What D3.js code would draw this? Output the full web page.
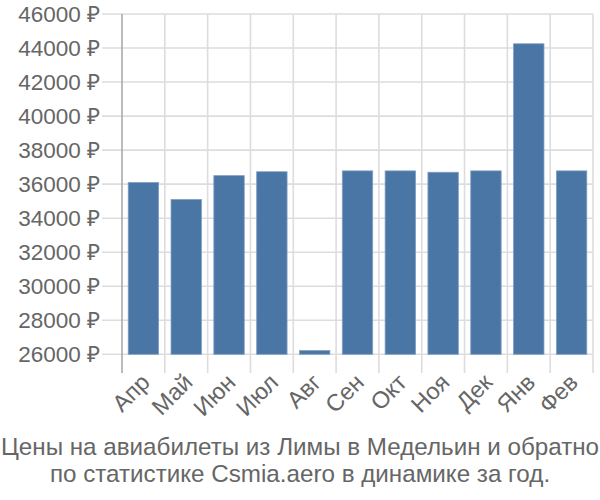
<!DOCTYPE html>
<html><head><meta charset="utf-8">
<script src="https://cdn.jsdelivr.net/npm/d3@7"></script>
<style>body{margin:0;background:#fff}text{font-family:"Liberation Sans",Arial,sans-serif}</style>
</head><body><svg id="c" width="600" height="500"></svg>
<script>
const months = ["Апр","Май","Июн","Июл","Авг","Сен","Окт","Ноя","Дек","Янв","Фев"];
const prices = [36100,35100,36500,36730,26220,36780,36780,36700,36780,44250,36780];
const yTicks = [26000,28000,30000,32000,34000,36000,38000,40000,42000,44000,46000];
const titleLines = ["Цены на авиабилеты из Лимы в Медельин и обратно","по статистике Csmia.aero в динамике за год."];

const svg = d3.select("#c");
const L=122, R=593, T=14, B=354.3;
const x = d3.scaleBand().domain(months).range([L,R]).paddingInner(0.29).paddingOuter(0.145);
const y = d3.scaleLinear().domain([26000,46000]).range([B,T]);
const step = x.step();

svg.append("g").selectAll("line").data(yTicks).join("line")
  .attr("x1",102).attr("x2",R).attr("y1",d=>y(d)).attr("y2",d=>y(d))
  .attr("stroke","#dddddd").attr("stroke-width",1.6);
const bounds = months.map((m,i)=>L+i*step).concat([R]);
svg.append("g").selectAll("line").data(bounds.slice(1)).join("line")
  .attr("x1",d=>d).attr("x2",d=>d).attr("y1",T).attr("y2",373)
  .attr("stroke","#dddddd").attr("stroke-width",1.6);
svg.append("line").attr("x1",L).attr("x2",L).attr("y1",T).attr("y2",373)
  .attr("stroke","#aaaaaa").attr("stroke-width",1.6);

svg.append("g").selectAll("text").data(yTicks).join("text")
  .attr("x",100).attr("y",d=>y(d)).attr("dy","0.35em").attr("text-anchor","end")
  .attr("fill","#666").style("font-size","22.5px").text(d=>d+" ₽");

svg.append("g").selectAll("rect").data(months).join("rect")
  .attr("x",d=>x(d)).attr("width",x.bandwidth())
  .attr("y",(d,i)=>y(prices[i])).attr("height",(d,i)=>B-y(prices[i]))
  .attr("fill","#4a76a5").attr("stroke","#7f9fc4").attr("stroke-width",0.8);

svg.append("g").selectAll("text").data(months).join("text")
  .attr("transform",d=>`translate(${x(d)+x.bandwidth()/2+2},${378}) rotate(-45)`)
  .attr("text-anchor","end").attr("dy","0.35em")
  .attr("fill","#666").style("font-size","23.5px").text(d=>d);

svg.append("g").selectAll("text").data(titleLines).join("text")
  .attr("x",300).attr("y",(d,i)=>454.5+i*27.5).attr("text-anchor","middle")
  .attr("fill","#666").style("font-size","24.2px").text(d=>d);
</script></body></html>
